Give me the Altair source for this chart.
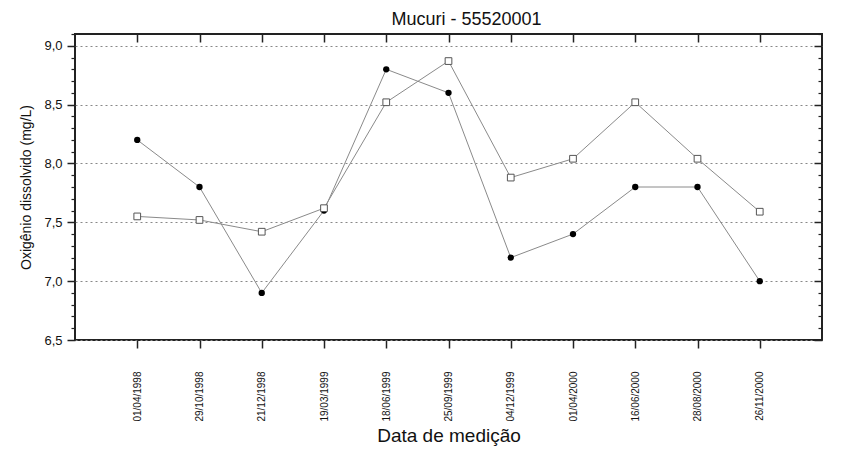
import altair as alt
import pandas as pd

dates = ["01/04/1998", "29/10/1998", "21/12/1998", "19/03/1999", "18/06/1999",
         "25/09/1999", "04/12/1999", "01/04/2000", "16/06/2000", "28/08/2000",
         "26/11/2000"]
serie_circulos = [8.2, 7.8, 6.9, 7.6, 8.8, 8.6, 7.2, 7.4, 7.8, 7.8, 7.0]
serie_quadrados = [7.55, 7.52, 7.42, 7.62, 8.52, 8.87, 7.88, 8.04, 8.52, 8.04, 7.59]

idx = list(range(1, len(dates) + 1))
df_a = pd.DataFrame({"i": idx, "data": dates, "v": serie_circulos})
df_b = pd.DataFrame({"i": idx, "data": dates, "v": serie_quadrados})

label_arr = "[" + ",".join("'%s'" % d for d in dates) + "]"
FONT = "Liberation Sans"

xs = alt.Scale(domain=[0, 12], nice=False, zero=False)
ys = alt.Scale(domain=[6.5, 9.1], nice=False, zero=False)

major_y = [6.5, 7.0, 7.5, 8.0, 8.5, 9.0]
minor_y = [round(6.5 + 0.1 * k, 1) for k in range(0, 27)]
minor_y = [m for m in minor_y if m not in major_y]

line_col = "#8a8a8a"

# Layer 1: line A, bottom x axis, left major y axis with grid
l1 = alt.Chart(df_a).mark_line(color=line_col, strokeWidth=1).encode(
    x=alt.X("i:Q", scale=xs, axis=alt.Axis(
        orient="bottom", values=idx, labelExpr=label_arr + "[datum.value-1]",
        labelAngle=-90, labelAlign="right", labelBaseline="middle",
        labelFont=FONT, labelFontSize=10, labelColor="#111", labelPadding=23,
        tickSize=8, tickColor="#222", tickWidth=1.5, domain=False, grid=False,
        title="Data de medição", titleFont=FONT, titleFontSize=19,
        titleFontWeight="normal", titleColor="#111", titlePadding=5)),
    y=alt.Y("v:Q", scale=ys, axis=alt.Axis(
        orient="left", values=major_y,
        labelExpr="replace(format(datum.value, '.1f'), '.', ',')",
        labelFont=FONT, labelFontSize=13, labelColor="#111", labelPadding=5,
        tickSize=8, tickColor="#222", tickWidth=1.5, domain=False,
        grid=True, gridDash=[2, 3], gridColor="#888", gridWidth=1,
        title="Oxigênio dissolvido (mg/L)", titleFont=FONT, titleFontSize=14,
        titleFontWeight="normal", titleColor="#111", titlePadding=10)),
)

# Layer 2: points A, top x axis ticks (inward), left minor y ticks
l2 = alt.Chart(df_a).mark_point(shape="circle", filled=True, color="#000", size=40, opacity=1).encode(
    x=alt.X("i:Q", scale=xs, axis=alt.Axis(
        orient="top", values=idx, labels=False, tickSize=8, offset=-8,
        tickColor="#222", tickWidth=1.5, domain=False, grid=False, title=None)),
    y=alt.Y("v:Q", scale=ys, axis=alt.Axis(
        orient="left", values=minor_y, labels=False, tickSize=4,
        tickColor="#222", tickWidth=1.2, domain=False, grid=False, title=None)),
)

# Layer 3: line B, right major ticks (inward)
l3 = alt.Chart(df_b).mark_line(color=line_col, strokeWidth=1).encode(
    x=alt.X("i:Q", scale=xs, axis=None),
    y=alt.Y("v:Q", scale=ys, axis=alt.Axis(
        orient="right", values=major_y, labels=False, tickSize=8, offset=-8,
        tickColor="#222", tickWidth=1.5, domain=False, grid=False, title=None)),
)

# Layer 4: points B, right minor ticks (inward)
l4 = alt.Chart(df_b).mark_point(shape="square", filled=True, fill="white",
                                stroke="#555", strokeWidth=1, size=45, opacity=1).encode(
    x=alt.X("i:Q", scale=xs, axis=None),
    y=alt.Y("v:Q", scale=ys, axis=alt.Axis(
        orient="right", values=minor_y, labels=False, tickSize=4, offset=-4,
        tickColor="#222", tickWidth=1.2, domain=False, grid=False, title=None)),
)

chart = alt.layer(l1, l2, l3, l4).resolve_axis(x="independent", y="independent").properties(
    width=747, height=306,
    title=alt.TitleParams("Mucuri - 55520001", font=FONT, fontSize=18,
                          fontWeight="normal", color="#111", dx=18, offset=4),
    autosize=alt.AutoSizeParams(type="none"),
    padding={"left": 67, "top": 26, "right": 15, "bottom": 110},
).configure_view(stroke="#222", strokeWidth=2)

chart.save("out.html", embed_options={"renderer": "svg", "actions": False})
